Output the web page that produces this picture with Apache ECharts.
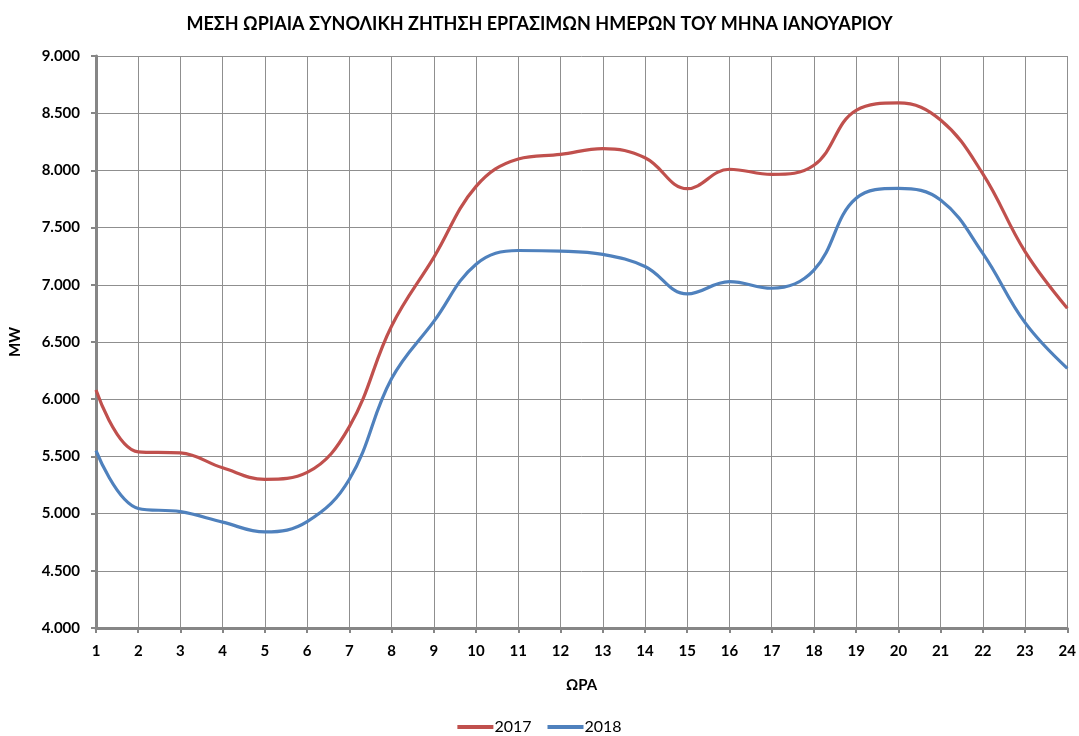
<!DOCTYPE html>
<html>
<head>
<meta charset="utf-8">
<script src="https://cdn.jsdelivr.net/npm/echarts@6/dist/echarts.min.js"></script>
<style>
  html, body { margin: 0; padding: 0; background: #ffffff; }
  #chart { width: 1079px; height: 736px; }
</style>
</head>
<body>
<div id="chart"></div>
<script>
// Hours of the day (x categories)
const hours = ['1','2','3','4','5','6','7','8','9','10','11','12','13','14','15','16','17','18','19','20','21','22','23','24'];

// Average hourly total demand on January working days, MW
const demand2017 = [6080, 5540, 5530, 5400, 5300, 5360, 5760, 6640, 7240, 7860, 8100, 8140, 8190, 8110, 7840, 8010, 7965, 8045, 8525, 8590, 8440, 7970, 7290, 6795];
const demand2018 = [5550, 5045, 5017, 4925, 4840, 4930, 5300, 6180, 6680, 7180, 7300, 7295, 7266, 7160, 6920, 7028, 6970, 7128, 7756, 7843, 7741, 7275, 6669, 6270];

const seriesNames = ['2017', '2018'];
const yTicks = { min: 4000, max: 9000, step: 500 };

const titleText = 'ΜΕΣΗ ΩΡΙΑΙΑ ΣΥΝΟΛΙΚΗ ΖΗΤΗΣΗ ΕΡΓΑΣΙΜΩΝ ΗΜΕΡΩΝ ΤΟΥ ΜΗΝΑ ΙΑΝΟΥΑΡΙΟΥ';
const xName = 'ΩΡΑ';
const yName = 'MW';

const FONT = 'Lato, "Open Sans", "DejaVu Sans", sans-serif';
const gridColor = '#8f8f8f';
const axisColor = '#868686';

function thousands(v) {
  return String(v).replace(/\B(?=(\d{3})+(?!\d))/g, '.');
}

const chart = echarts.init(document.getElementById('chart'), null, { renderer: 'canvas' });

chart.setOption({
  animation: false,
  backgroundColor: '#ffffff',
  title: {
    text: titleText,
    left: 'center',
    top: 10,
    textStyle: { fontFamily: FONT, fontSize: 18, fontWeight: 'bold', color: '#000' }
  },
  legend: {
    data: seriesNames,
    left: 'center',
    top: 714,
    icon: 'rect',
    itemWidth: 36,
    itemHeight: 4,
    itemGap: 16,
    textStyle: { fontFamily: FONT, fontSize: 16, color: '#000', padding: [0, 0, 0, -4] }
  },
  grid: { left: 92, right: 11, top: 56, bottom: 108, containLabel: false },
  xAxis: {
    type: 'category',
    data: hours,
    boundaryGap: false,
    name: xName,
    nameLocation: 'middle',
    nameGap: 50,
    nameTextStyle: { fontFamily: FONT, fontSize: 15, fontWeight: 'bold', color: '#000' },
    axisLine: { lineStyle: { color: axisColor, width: 3 } },
    axisTick: { show: true, alignWithLabel: true, length: 5, lineStyle: { color: axisColor, width: 2 } },
    axisLabel: { fontFamily: FONT, fontSize: 15, fontWeight: 'bold', color: '#000', margin: 16 },
    splitLine: { show: true, lineStyle: { color: gridColor, width: 1 } }
  },
  yAxis: {
    type: 'value',
    min: yTicks.min,
    max: yTicks.max,
    interval: yTicks.step,
    name: yName,
    nameLocation: 'middle',
    nameGap: 73,
    nameTextStyle: { fontFamily: FONT, fontSize: 15, fontWeight: 'bold', color: '#000' },
    axisLine: { show: true, lineStyle: { color: axisColor, width: 3 } },
    axisTick: { show: true, length: 5, lineStyle: { color: axisColor, width: 2 } },
    axisLabel: { fontFamily: FONT, fontSize: 15, fontWeight: 'bold', color: '#000', margin: 16, formatter: thousands },
    splitLine: { show: true, lineStyle: { color: gridColor, width: 1 } }
  },
  series: [
    {
      name: seriesNames[0],
      type: 'line',
      data: demand2017,
      smooth: 0.4,
      showSymbol: false,
      symbol: 'none',
      lineStyle: { color: '#C0504D', width: 3.2 },
      itemStyle: { color: '#C0504D' }
    },
    {
      name: seriesNames[1],
      type: 'line',
      data: demand2018,
      smooth: 0.4,
      showSymbol: false,
      symbol: 'none',
      lineStyle: { color: '#4F81BD', width: 3.2 },
      itemStyle: { color: '#4F81BD' }
    }
  ]
});
</script>
</body>
</html>
